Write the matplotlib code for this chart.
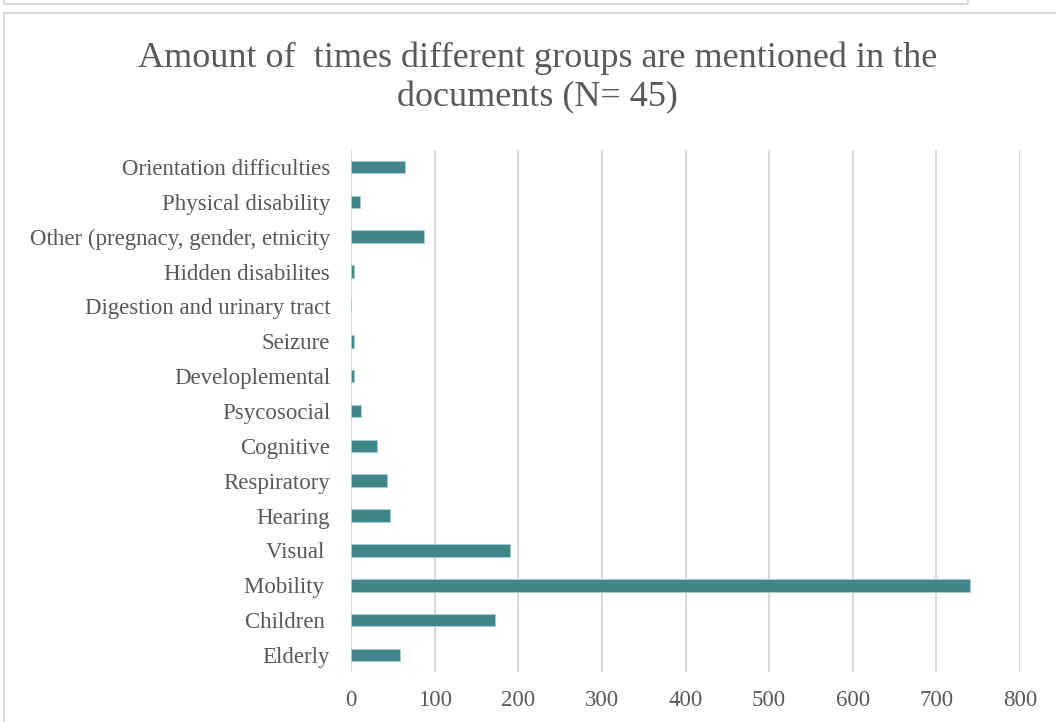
import matplotlib.pyplot as plt
from matplotlib.patches import Rectangle

categories = ['Elderly', 'Children ', 'Mobility ', 'Visual ', 'Hearing', 'Respiratory',
              'Cognitive', 'Psycosocial', 'Developlemental', 'Seizure',
              'Digestion and urinary tract', 'Hidden disabilites',
              'Other (pregnacy, gender, etnicity', 'Physical disability',
              'Orientation difficulties']
counts = [58, 172, 740, 190, 47, 43, 31, 12, 4, 4, 0, 3, 87, 11, 65]
xticks = [0, 100, 200, 300, 400, 500, 600, 700, 800]

plt.rcParams['font.family'] = ['Liberation Serif', 'DejaVu Serif']
grey = '#595959'

fig = plt.figure(figsize=(10.56, 7.22), dpi=100)
ax = fig.add_axes([0.3324, 0.0687, 0.6335, 0.7241])

ax.barh(range(len(categories)), counts, height=0.36, color='#41868a',
        edgecolor='#a9cfd1', linewidth=0.6, zorder=3)
ax.set_ylim(-0.5, len(categories) - 0.5)
ax.set_xlim(0, 800)
ax.set_xticks(xticks)
ax.set_yticks(range(len(categories)))
ax.set_yticklabels(categories)
ax.grid(axis='x', color='#d9d9d9', linewidth=1.5, zorder=0)
for s in ax.spines.values():
    s.set_visible(False)
ax.tick_params(axis='both', length=0, labelsize=16.5, labelcolor=grey)
ax.tick_params(axis='x', pad=13)
ax.tick_params(axis='y', pad=15)

fig.text(0.509, 0.892, 'Amount of  times different groups are mentioned in the\ndocuments (N= 45)',
         ha='center', va='center', fontsize=26, color=grey, linespacing=1.25)

# chart frame borders
fig.add_artist(Rectangle((4 / 1056, -0.01), 1.1, 1 - 13 / 722 + 0.01,
                         transform=fig.transFigure, fill=False,
                         edgecolor='#d9d9d9', linewidth=1.5))
fig.add_artist(Rectangle((4 / 1056, 1 - 4 / 722), (968 - 4) / 1056, 0.1,
                         transform=fig.transFigure, fill=False,
                         edgecolor='#d9d9d9', linewidth=1.5))

fig.savefig('out.png', dpi=100)
